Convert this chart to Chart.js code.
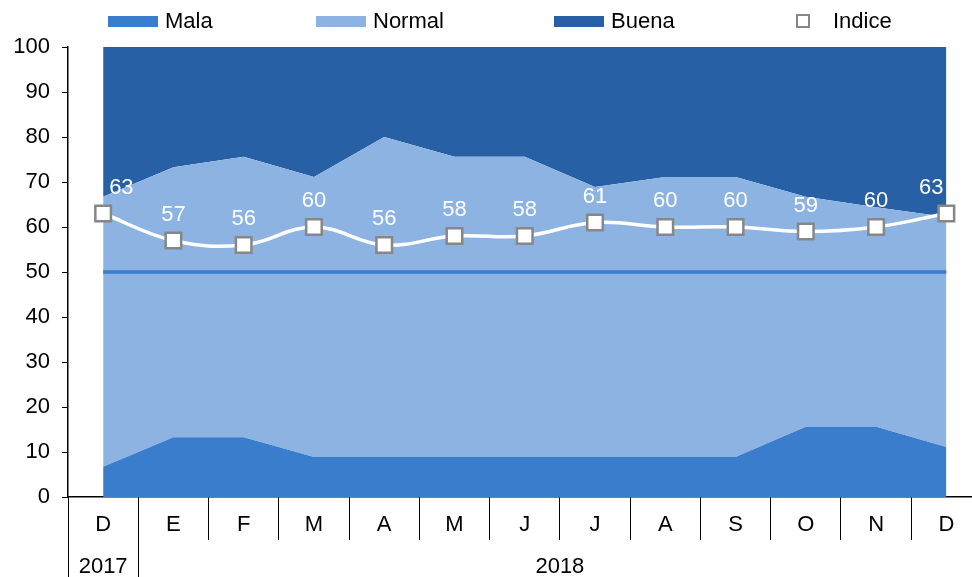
<!DOCTYPE html>
<html>
<head>
<meta charset="utf-8">
<script src="https://cdn.jsdelivr.net/npm/chart.js@4/dist/chart.umd.min.js"></script>
<style>
  html, body { margin: 0; padding: 0; background: #fff; overflow: hidden; }
  #wrap { position: relative; width: 995px; height: 577px; }
  #legend { position: absolute; top: 10px; left: 0; height: 22px; width: 990px;
            font: 22px "Liberation Sans", Arial, sans-serif; color: #000; }
  .item { position: absolute; top: 0; display: flex; align-items: center; height: 22px; white-space: nowrap; }
  .sw { width: 50px; height: 11px; margin-right: 7px; }
  .mk { box-sizing: border-box; width: 14px; height: 14px; border: 2.5px solid #878787;
        background: #fff; margin-right: 23px; }
</style>
</head>
<body>
<div id="wrap">
  <canvas id="myChart" width="995" height="577"></canvas>
  <div id="legend"></div>
</div>
<script>
'use strict';

// categories
const months = ['D', 'E', 'F', 'M', 'A', 'M', 'J', 'J', 'A', 'S', 'O', 'N', 'D'];
const years = ['2017', '2018'];
const yearSpan = [1, 12];

// series (% of answers)
const mala   = [6.7, 13.3, 13.3, 8.9, 8.9, 8.9, 8.9, 8.9, 8.9, 8.9, 15.6, 15.6, 11.1];
const normal = [60.0, 60.0, 62.3, 62.2, 71.1, 66.7, 66.7, 60.0, 62.2, 62.2, 51.1, 48.8, 51.1];
const buena  = [33.3, 26.7, 24.4, 28.9, 20.0, 24.4, 24.4, 31.1, 28.9, 28.9, 33.3, 35.6, 37.8];
const indice = [63, 57, 56, 60, 56, 58, 58, 61, 60, 60, 59, 60, 63];
const umbral = 50;

const C_MALA = '#3a7dcd';
const C_NORMAL = '#8db3e2';
const C_BUENA = '#2760a5';
const FONT = '"Liberation Sans", Arial, sans-serif';

// html legend
const legendItems = [
  { label: 'Mala', color: C_MALA, left: 108 },
  { label: 'Normal', color: C_NORMAL, left: 316 },
  { label: 'Buena', color: C_BUENA, left: 554 },
  { label: 'Indice', marker: true, left: 796 }
];
const legendEl = document.getElementById('legend');
legendItems.forEach(it => {
  const d = document.createElement('div');
  d.className = 'item';
  d.style.left = it.left + 'px';
  const s = document.createElement('span');
  if (it.marker) {
    s.className = 'mk';
  } else {
    s.className = 'sw';
    s.style.background = it.color;
  }
  d.appendChild(s);
  d.appendChild(document.createTextNode(it.label));
  legendEl.appendChild(d);
});

// value labels above the index points (edge labels pushed inwards like excel does)
const valueLabels = {
  id: 'valueLabels',
  afterDatasetsDraw(chart) {
    const meta = chart.getDatasetMeta(0);
    const c = chart.ctx;
    const last = meta.data.length - 1;
    c.save();
    c.fillStyle = '#fff';
    c.font = '22px ' + FONT;
    c.textBaseline = 'middle';
    meta.data.forEach((p, i) => {
      let x = p.x;
      c.textAlign = 'center';
      if (i === 0) { c.textAlign = 'left'; x = p.x + 6; }
      if (i === last) { c.textAlign = 'right'; x = p.x - 3; }
      c.fillText(String(indice[i]), x, p.y - 26);
    });
    c.restore();
  }
};

// second row of the x axis (years)
const yearRow = {
  id: 'yearRow',
  afterDraw(chart) {
    const xs = chart.scales.x;
    const c = chart.ctx;
    const step = xs.width / months.length;
    const top = chart.chartArea.bottom + 43;
    const bottom = chart.height;
    c.save();
    c.strokeStyle = '#000';
    c.lineWidth = 1;
    c.fillStyle = '#000';
    c.font = '22px ' + FONT;
    c.textAlign = 'center';
    c.textBaseline = 'middle';
    let start = 0;
    years.forEach((y, k) => {
      const x0 = xs.left + start * step;
      const x1 = xs.left + (start + yearSpan[k]) * step;
      [x0, x1].forEach(x => {
        c.beginPath();
        c.moveTo(Math.round(x) + 0.5, top);
        c.lineTo(Math.round(x) + 0.5, bottom);
        c.stroke();
      });
      c.fillText(y, (x0 + x1) / 2, bottom - 10);
      start += yearSpan[k];
    });
    c.restore();
  }
};

const ctx = document.getElementById('myChart').getContext('2d');

new Chart(ctx, {
  type: 'line',
  data: {
    labels: months,
    datasets: [
      {
        label: 'Indice',
        data: indice,
        stack: 'i',
        borderColor: '#fff',
        borderWidth: 3.5,
        tension: 0.4,
        fill: false,
        pointStyle: 'rect',
        pointRadius: 11,
        pointBackgroundColor: '#fff',
        pointBorderColor: '#878787',
        pointBorderWidth: 2.5,
        clip: false
      },
      {
        label: 'Umbral',
        data: months.map(() => umbral),
        stack: 'r',
        borderColor: C_MALA,
        borderWidth: 3.5,
        pointRadius: 0,
        fill: false
      },
      {
        label: 'Mala',
        data: mala,
        stack: 'a',
        backgroundColor: C_MALA,
        borderWidth: 0,
        pointRadius: 0,
        fill: 'origin'
      },
      {
        label: 'Normal',
        data: normal,
        stack: 'a',
        backgroundColor: C_NORMAL,
        borderWidth: 0,
        pointRadius: 0,
        fill: '-1'
      },
      {
        label: 'Buena',
        data: buena,
        stack: 'a',
        backgroundColor: C_BUENA,
        borderWidth: 0,
        pointRadius: 0,
        fill: '-1'
      }
    ]
  },
  options: {
    responsive: false,
    animation: false,
    layout: { padding: { top: 47, right: 9, left: 0, bottom: 0 } },
    plugins: {
      legend: { display: false },
      tooltip: { enabled: false }
    },
    scales: {
      x: {
        offset: true,
        grid: {
          offset: true,
          drawOnChartArea: false,
          color: '#000',
          tickLength: 43,
          lineWidth: 1
        },
        border: { color: '#000', width: 1.5 },
        ticks: {
          color: '#000',
          font: { family: FONT, size: 22 },
          padding: -28,
          maxRotation: 0,
          autoSkip: false
        },
        afterFit: s => { s.height = 80; }
      },
      y: {
        stacked: true,
        min: 0,
        max: 100,
        grid: {
          drawOnChartArea: false,
          color: '#000',
          tickLength: 6
        },
        border: { color: '#000', width: 1.5 },
        ticks: {
          stepSize: 10,
          color: '#000',
          font: { family: FONT, size: 22 },
          padding: 12
        },
        afterFit: s => { s.width = 68; }
      }
    }
  },
  plugins: [valueLabels, yearRow]
});
</script>
</body>
</html>
